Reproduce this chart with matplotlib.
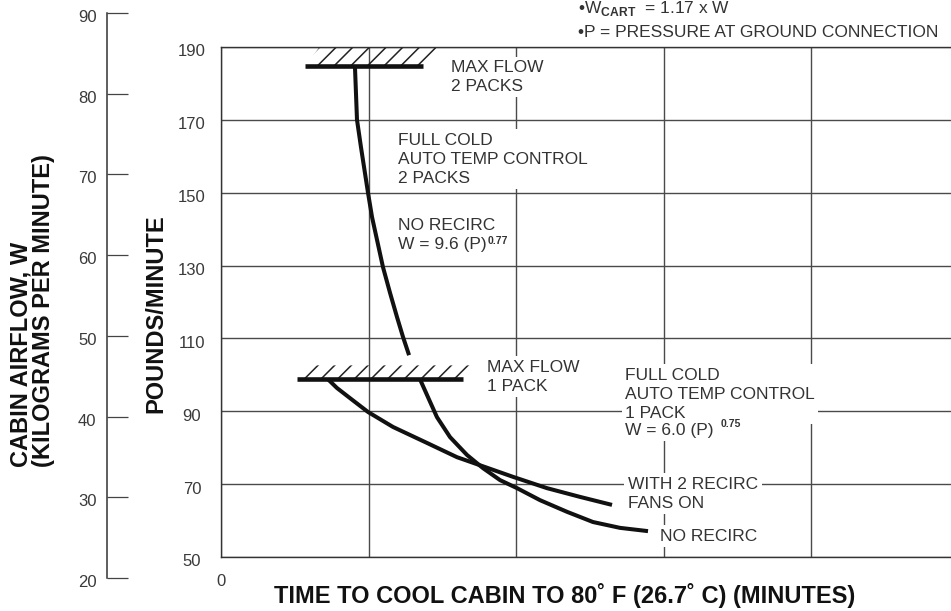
import numpy as np
import matplotlib
matplotlib.use("Agg")
import matplotlib.pyplot as plt
from matplotlib.patches import Polygon
from matplotlib import transforms

plt.rcParams['font.family'] = ['Liberation Sans', 'DejaVu Sans']
plt.rcParams['mathtext.fontset'] = 'custom'
plt.rcParams['mathtext.rm'] = 'Liberation Sans'
plt.rcParams['mathtext.bf'] = 'Liberation Sans:bold'
plt.rcParams['hatch.linewidth'] = 1.1

# ---------------- data ----------------
lb_ticks = [50, 70, 90, 110, 130, 150, 170, 190]      # pounds / minute
kg_ticks = [20, 30, 40, 50, 60, 70, 80, 90]           # kilograms / minute
x_grid = [0, 1, 2, 3, 4]                               # time grid (only 0 labelled)

# 2 packs, no recirc
two_pack_x = [0.908, 0.915, 0.922, 0.949, 0.976, 0.997, 1.024, 1.058, 1.098, 1.146, 1.193, 1.234, 1.275]
two_pack_y = [184.8, 177.4, 170.0, 162.5, 155.4, 149.9, 143.3, 137.0, 129.6, 122.5, 115.9, 110.4, 105.4]

# 1 pack, with 2 recirc fans on
recirc_x = [0.725, 0.786, 0.875, 0.997, 1.166, 1.397, 1.600, 1.769, 1.980, 2.210, 2.434, 2.651]
recirc_y = [98.8, 96.4, 93.6, 89.8, 85.7, 81.3, 77.4, 75.0, 72.0, 68.9, 66.5, 64.3]

# 1 pack, no recirc
norecirc_x = [1.349, 1.403, 1.464, 1.553, 1.668, 1.776, 1.892, 2.007, 2.163, 2.346, 2.522, 2.705, 2.895]
norecirc_y = [98.8, 93.9, 88.4, 82.9, 78.0, 74.4, 71.1, 68.9, 65.6, 62.4, 59.6, 58.0, 57.1]

# max-flow limit bars
max2_x = [0.570, 1.370]
max2_y = 184.8
max1_x = [0.515, 1.640]
max1_y = 98.8

# ---------------- figure ----------------
W, H = 951, 611
fig = plt.figure(figsize=(W / 100, H / 100), dpi=100)

ax = fig.add_axes([221 / W, 54 / H, 730 / W, 510 / H])
ax.set_xlim(0, 730 / 147.5)
ax.set_ylim(50, 190)
ax.set_yticks(lb_ticks)
ax.set_xticks(x_grid)
ax.set_xticklabels([])
ax.set_yticklabels([])
ax.tick_params(length=0)
ax.grid(True, color='#4a4a4a', lw=1.0)
ax.set_axisbelow(True)
for s in ['left', 'bottom', 'top']:
    ax.spines[s].set_color('#333333')
    ax.spines[s].set_linewidth(1.0)
ax.spines['right'].set_visible(False)

down5 = transforms.ScaledTranslation(0, -5 / 100, fig.dpi_scale_trans)
for v in lb_ticks:
    ax.text(-29 / 730, v, str(v), transform=ax.get_yaxis_transform() + down5,
            ha='center', va='center', fontsize=12, color='#3a3a3a')
ax.text(0, (557 - 581) / 510, '0', transform=ax.get_xaxis_transform(),
        ha='center', va='center', fontsize=12, color='#3a3a3a')

# secondary (kg/min) axis
ax2 = fig.add_axes([107 / W, 33 / H, 30 / W, 565 / H])
ax2.set_ylim(20, 90)
ax2.patch.set_visible(False)
for s in ['right', 'bottom', 'top']:
    ax2.spines[s].set_visible(False)
ax2.spines['left'].set_color('#333333')
ax2.spines['left'].set_linewidth(1.1)
ax2.set_xticks([])
ax2.set_yticks(kg_ticks)
ax2.set_yticklabels([])
ax2.tick_params(axis='y', direction='in', length=15.1, width=0.9, color='#444444')
down4 = transforms.ScaledTranslation(0, -4.5 / 100, fig.dpi_scale_trans)
for v in kg_ticks:
    ax2.text(-10.5 / 30, v, str(v), transform=ax2.get_yaxis_transform() + down4,
             ha='right', va='center', fontsize=12, color='#3a3a3a')

# ---------------- marks ----------------
line_kw = dict(color='#111111', lw=2.9, solid_capstyle='butt', solid_joinstyle='round', zorder=4)
ax.plot(two_pack_x, two_pack_y, **line_kw)
ax.plot(recirc_x, recirc_y, **line_kw)
ax.plot(norecirc_x, norecirc_y, **line_kw)

bar_kw = dict(color='#111111', lw=3.3, solid_capstyle='butt', zorder=5)
ax.plot(max2_x, [max2_y, max2_y], **bar_kw)
ax.plot(max1_x, [max1_y, max1_y], **bar_kw)

def hatch_band(xs, y, skew, h):
    poly = Polygon([(xs[0], y), (xs[1], y), (xs[1] + skew, y + h), (xs[0] + skew, y + h)],
                   closed=True, fill=False, hatch='//', edgecolor='#222222', lw=0, zorder=3)
    ax.add_patch(poly)

hatch_band(max2_x, max2_y, 0.095, 5.0)
hatch_band(max1_x, max1_y, 0.095, 3.8)

# ---------------- annotations ----------------
txt_kw = dict(fontsize=12.5, color='#333333', ha='left', va='top', zorder=6,
              linespacing=1.32,
              bbox=dict(facecolor='white', edgecolor='none', pad=2.5))
sup_kw = dict(fontsize=7.5, fontweight='bold', color='#333333', ha='left', va='top', zorder=7)

ax.text(1.559, 186.4, 'MAX FLOW\n2 PACKS', **txt_kw)
ax.text(1.200, 166.4, 'FULL COLD\nAUTO TEMP CONTROL\n2 PACKS', **txt_kw)
ax.text(1.200, 143.1, 'NO RECIRC', **txt_kw)
f1 = ax.text(1.200, 137.8, 'W = 9.6 (P)', **txt_kw)
ax.annotate('0.77', xy=(1, 1), xycoords=f1, xytext=(0.5, 0.5), textcoords='offset points', **sup_kw)
ax.text(1.803, 104.1, 'MAX FLOW\n1 PACK', **txt_kw)
ax.text(2.739, 101.9, 'FULL COLD\nAUTO TEMP CONTROL\n1 PACK', **txt_kw)
f2 = ax.text(2.739, 86.8, 'W = 6.0 (P)', **txt_kw)
ax.annotate('0.75', xy=(1, 1), xycoords=f2, xytext=(5, 3), textcoords='offset points', **sup_kw)
ax.text(2.759, 72.0, 'WITH 2 RECIRC\nFANS ON', **txt_kw)
ax.text(2.976, 57.7, 'NO RECIRC', **txt_kw)

fig.text(578 / W, (H - 13.5) / H, r'•W$_{\mathbf{CART}}$  = 1.17 x W',
         fontsize=12.5, color='#333333', ha='left', va='baseline')
fig.text(578 / W, (H - 37) / H, '•P = PRESSURE AT GROUND CONNECTION',
         fontsize=12.5, color='#333333', ha='left', va='baseline')

# ---------------- axis titles ----------------
bold_kw = dict(fontsize=17, fontweight='bold', color='#111111')
fig.text(21 / W, (H - 467) / H, 'CABIN AIRFLOW, W', rotation=90, ha='center', va='bottom', **bold_kw)
fig.text(44 / W, (H - 467) / H, '(KILOGRAMS PER MINUTE)', rotation=90, ha='center', va='bottom', **bold_kw)
fig.text(156 / W, (H - 413) / H, 'POUNDS/MINUTE', rotation=90, ha='center', va='bottom', **bold_kw)
fig.text(565 / W, (H - 596) / H, 'TIME TO COOL CABIN TO 80˚ F (26.7˚ C) (MINUTES)',
         ha='center', va='center', **bold_kw)

fig.savefig('out.png', dpi=100)
